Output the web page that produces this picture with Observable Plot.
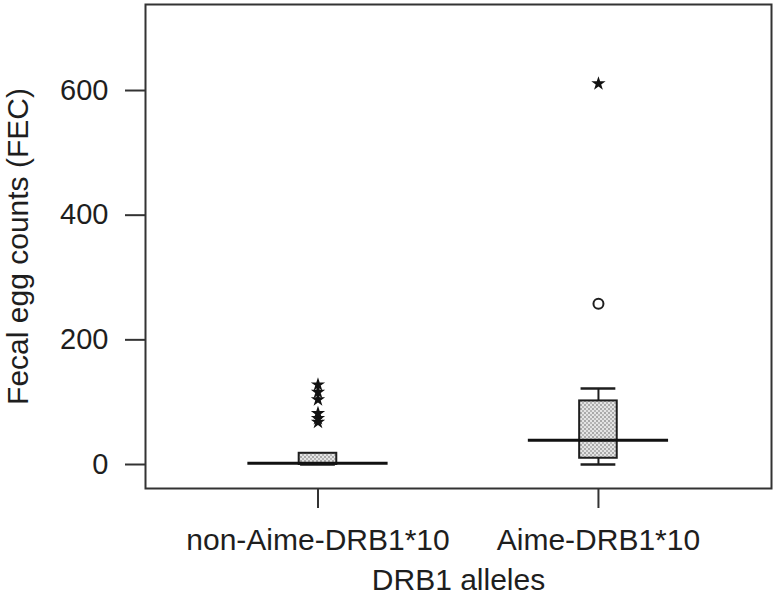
<!DOCTYPE html>
<html>
<head>
<meta charset="utf-8">
<script src="https://cdn.jsdelivr.net/npm/d3@7"></script>
<script src="https://cdn.jsdelivr.net/npm/@observablehq/plot@0.6"></script>
<style>
  html, body { margin: 0; padding: 0; background: #fff; }
  #chart { width: 775px; height: 595px; }
</style>
</head>
<body>
<div id="chart"></div>
<script>
// ---- data ----
const categories = ["non-Aime-DRB1*10", "Aime-DRB1*10"];
const groupPos = [1, 2];
const q1 = [0, 10];
const median = [2, 39];
const q3 = [18, 102];
const whiskerLow = [0, 0];
const whiskerHigh = [18, 122];
// outliers: group index, value, kind
const outlierGroup = [1, 1, 1, 1, 1, 1, 2, 2];
const outlierValue = [128, 116, 104, 82, 74, 68, 258, 611];
const outlierKind  = ["extreme", "extreme", "extreme", "extreme", "extreme", "extreme", "mild", "extreme"];
const yTicks = [0, 200, 400, 600];
const xLabel = "DRB1 alleles";
const yLabel = "Fecal egg counts (FEC)";

// ---- tables ----
const boxes = categories.map((c, i) => ({
  name: c, pos: groupPos[i], q1: q1[i], med: median[i], q3: q3[i], lo: whiskerLow[i], hi: whiskerHigh[i]
}));
const outliers = outlierValue.map((v, i) => ({pos: outlierGroup[i], value: v, kind: outlierKind[i]}));

const boxHalf = 0.067, capHalf = 0.062, medHalf = 0.25;
const ink = "#1e1e1e";
const font = "'Liberation Sans', Arial, Helvetica, sans-serif";

const plot = Plot.plot({
  width: 775,
  height: 595,
  marginLeft: 145,
  marginRight: 4,
  marginTop: 4,
  marginBottom: 107,
  style: {fontFamily: font, fontSize: "29px", color: ink, background: "#fff"},
  x: {type: "linear", domain: [0.385, 2.617], axis: null},
  y: {type: "linear", domain: [-38.5, 738], axis: null},
  marks: [
    Plot.frame({stroke: "#333", strokeWidth: 2}),
    Plot.axisY({ticks: yTicks, tickSize: 20, tickPadding: 17, fontSize: 29, label: null, stroke: "#333", strokeWidth: 2, tickFormat: d => d}),
    Plot.axisX({ticks: groupPos, tickSize: 20, tickPadding: 20, fontSize: 30, label: null, stroke: "#333", strokeWidth: 2,
      tickFormat: d => categories[groupPos.indexOf(d)]}),
    // whiskers
    Plot.ruleX(boxes, {x: "pos", y1: "q3", y2: "hi", stroke: ink, strokeWidth: 2}),
    Plot.ruleX(boxes, {x: "pos", y1: "lo", y2: "q1", stroke: ink, strokeWidth: 2}),
    Plot.ruleY(boxes, {y: "hi", x1: d => d.pos - capHalf, x2: d => d.pos + capHalf, stroke: ink, strokeWidth: 2.5}),
    Plot.ruleY(boxes, {y: "lo", x1: d => d.pos - capHalf, x2: d => d.pos + capHalf, stroke: ink, strokeWidth: 2.5}),
    // boxes
    Plot.rect(boxes, {x1: d => d.pos - boxHalf, x2: d => d.pos + boxHalf, y1: "q1", y2: "q3",
      fill: "url(#stipple)", stroke: ink, strokeWidth: 2}),
    // medians
    Plot.ruleY(boxes, {y: "med", x1: d => d.pos - medHalf, x2: d => d.pos + medHalf, stroke: "#111", strokeWidth: 3}),
    // outliers
    Plot.dot(outliers.filter(d => d.kind === "mild"), {x: "pos", y: "value", r: 5, symbol: "circle", fill: "#fff", stroke: ink, strokeWidth: 2}),
    Plot.dot(outliers.filter(d => d.kind === "extreme"), {x: "pos", y: "value", r: 4.5, symbol: "star", fill: "#111", stroke: "none"}),
    // axis titles
    Plot.text([yLabel], {frameAnchor: "left", dx: -127, rotate: -90, lineAnchor: "middle", textAnchor: "middle", fontSize: 30, fill: ink}),
    Plot.text([xLabel], {frameAnchor: "bottom", dy: 92, lineAnchor: "middle", textAnchor: "middle", fontSize: 30, fill: ink})
  ]
});

d3.select(plot).insert("defs", ":first-child").html(
  '<pattern id="stipple" width="4" height="4" patternUnits="userSpaceOnUse">' +
  '<rect width="4" height="4" fill="#e4e4e4"/>' +
  '<rect x="0" y="0" width="2" height="2" fill="#a9a9a9"/>' +
  '<rect x="2" y="2" width="2" height="2" fill="#b5b5b5"/>' +
  '</pattern>'
);

document.getElementById("chart").appendChild(plot);
</script>
</body>
</html>
